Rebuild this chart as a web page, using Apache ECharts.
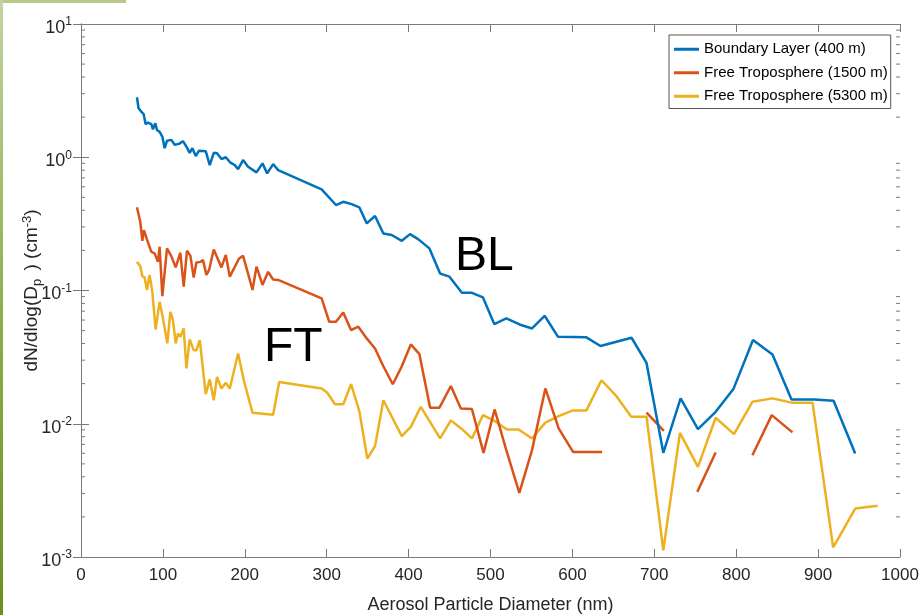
<!DOCTYPE html>
<html>
<head>
<meta charset="utf-8">
<script src="https://cdn.jsdelivr.net/npm/echarts@6/dist/echarts.min.js"></script>
<style>
  html, body { margin: 0; padding: 0; background: #ffffff; }
  #chart { width: 920px; height: 615px; }
</style>
</head>
<body>
<div id="chart"></div>
<script>
// Size distributions: [diameter (nm), dN/dlog(Dp) (cm^-3)]; null marks a missing bin
const boundaryLayer400 = [
  [68.3,2.82],[70.3,2.33],[73.6,2.20],[76.5,2.11],[78.9,1.77],[81.7,1.82],[85.9,1.77],[87.8,1.62],
  [90.8,1.80],[92.7,1.60],[96.0,1.55],[99.3,1.43],[102.1,1.17],[105.0,1.33],[107.4,1.29],[110.3,1.35],
  [114.4,1.24],[119.6,1.26],[124.5,1.32],[128.7,1.20],[132.7,1.08],[136.0,1.17],[140.1,1.02],[144.1,1.12],
  [152.3,1.11],[157.2,0.873],[162.1,1.08],[166.1,1.07],[171.5,0.97],[176.8,1.00],[182.5,0.91],[187.8,0.873],
  [191.8,0.815],[197.9,0.953],[204.0,0.849],[214.3,0.77],[221.6,0.90],[227.3,0.757],[234.6,0.889],[240.7,0.80],
  [293.8,0.574],[311.3,0.438],[320.2,0.463],[330.5,0.445],[339.8,0.421],[348.9,0.319],[359.0,0.362],[369.2,0.268],
  [379.4,0.261],[391.7,0.236],[401.8,0.265],[412.0,0.242],[425.4,0.207],[438.5,0.134],[449.9,0.127],[465.1,0.096],
  [477.3,0.096],[490.8,0.0887],[504.6,0.056],[519.3,0.0618],[535.5,0.0556],[550.7,0.0519],[566.1,0.0646],[582.5,0.0449],
  [617.1,0.0445],[634.3,0.0383],[672.2,0.0442],[690.5,0.0286],[711.0,0.00605],[732.1,0.0155],[753.3,0.0091],[774.9,0.0123],
  [796.6,0.0182],[820.5,0.0425],[844.3,0.0331],[867.5,0.0152],[895.2,0.0152],[918.9,0.0149],[945.3,0.00598]
];

const freeTroposphere1500 = [
  [68.3,0.421],[72.4,0.328],[74.9,0.236],[76.8,0.284],[80.5,0.242],[85.9,0.195],[89.9,0.190],[93.9,0.164],
  [96.0,0.213],[99.3,0.0908],[105.0,0.207],[110.3,0.181],[115.6,0.149],[121.3,0.192],[125.4,0.107],[129.4,0.199],
  [133.6,0.182],[137.6,0.125],[140.9,0.162],[145.8,0.164],[149.0,0.169],[153.1,0.131],[156.3,0.142],[162.1,0.203],
  [171.5,0.149],[176.8,0.185],[181.7,0.127],[193.0,0.174],[197.9,0.182],[204.0,0.134],[209.4,0.101],[214.3,0.151],
  [221.6,0.110],[228.5,0.138],[234.6,0.121],[240.7,0.120],[293.8,0.0873],[303.1,0.0582],[311.3,0.0582],[320.2,0.0684],
  [329.7,0.0505],[338.6,0.0535],[348.9,0.0437],[359.0,0.0367],[369.2,0.0270],[380.7,0.0198],[391.7,0.0270],[402.7,0.0394],
  [413.2,0.0333],[426.3,0.0132],[437.7,0.0132],[451.6,0.0192],[463.8,0.0130],[477.3,0.0129],[491.5,0.00605],[505.0,0.0128],
  [519.3,0.00634],[535.2,0.00303],[550.7,0.00634],[567.0,0.0184],[583.2,0.00922],[600.8,0.00615],[636.3,0.00615],
  [653.8,null],
  [690.5,0.0121],[711.7,0.00885],
  [732.1,null],
  [752.5,0.00308],[774.9,0.00609],
  [796.6,null],
  [819.8,0.00581],[843.4,0.0116],[868.7,0.00861]
];

const freeTroposphere5300 = [
  [68.3,0.164],[72.4,0.152],[74.9,0.128],[77.7,0.125],[80.5,0.101],[83.8,0.131],[87.1,0.0977],[91.1,0.051],
  [96.0,0.0822],[100.1,0.0618],[105.4,0.0401],[109.1,0.0692],[112.3,0.060],[115.6,0.0401],[118.4,0.0476],[121.3,0.0449],
  [125.4,0.0519],[128.7,0.026],[132.7,0.043],[137.6,0.0357],[140.9,0.0355],[145.0,0.0425],[152.3,0.0167],[157.2,0.0215],
  [162.1,0.0150],[166.1,0.0225],[171.5,0.0184],[176.8,0.0203],[181.7,0.0184],[191.8,0.0337],[198.8,0.0212],[209.4,0.0121],
  [234.6,0.0117],[242.0,0.0206],[293.8,0.0184],[300.7,0.0171],[310.1,0.0140],[320.2,0.0140],[329.7,0.0198],[339.8,0.0125],
  [349.6,0.00548],[359.0,0.00679],[369.2,0.0150],[391.7,0.00807],[402.7,0.00948],[414.9,0.0134],[438.5,0.00776],[451.6,0.0106],
  [464.2,0.00922],[477.3,0.00776],[490.8,0.0116],[505.0,0.0105],[520.1,0.00906],[534.3,0.00906],[550.7,0.00776],[567.0,0.0102],
  [583.2,0.0114],[600.8,0.0126],[617.1,0.0126],[635.5,0.0212],[653.8,0.0161],[671.8,0.0113],[690.5,0.0113],[711.0,0.00112],
  [731.3,0.00855],[753.3,0.00475],[774.9,0.0111],[797.3,0.00836],[819.8,0.0146],[844.3,0.0155],[867.5,0.0144],[893.2,0.0144],
  [918.4,0.00118],[945.3,0.00231],[972.7,0.00242]
];

const seriesNames = ['Boundary Layer (400 m)', 'Free Troposphere (1500 m)', 'Free Troposphere (5300 m)'];
const seriesColors = ['#0072BD', '#D95319', '#EDB120'];

// Axis extents and tick layout
const xTicks = [0, 100, 200, 300, 400, 500, 600, 700, 800, 900, 1000];
const yDecades = [0.001, 0.01, 0.1, 1];
const yMinorSteps = [2, 3, 4, 5, 6, 7, 8, 9];
const yMinorTicks = [];
yDecades.forEach(d => yMinorSteps.forEach(m => yMinorTicks.push(d * m)));

const FONT = "'Liberation Sans', Arial, Helvetica, sans-serif";
const AXIS_COLOR = '#7a7a7a';
const TEXT_COLOR = '#262626';

const chart = echarts.init(document.getElementById('chart'), null, { renderer: 'canvas' });

const lineSeries = [boundaryLayer400, freeTroposphere1500, freeTroposphere5300].map((d, i) => ({
  name: seriesNames[i],
  type: 'line',
  data: d,
  xAxisIndex: 0,
  yAxisIndex: 0,
  showSymbol: false,
  symbol: 'none',
  connectNulls: false,
  clip: true,
  z: 3 - i + 2,
  lineStyle: { color: seriesColors[i], width: 2.5 },
  itemStyle: { color: seriesColors[i] }
}));

// Minor log ticks drawn inward on the left and right frame edges
const minorTickSeries = {
  name: 'minorTicks',
  type: 'custom',
  xAxisIndex: 0,
  yAxisIndex: 0,
  silent: true,
  data: yMinorTicks.map(v => [0, v]),
  renderItem: function (params, api) {
    const v = api.value(1);
    const left = api.coord([0, v]);
    const right = api.coord([1000, v]);
    const len = 4;
    return {
      type: 'group',
      children: [
        { type: 'line', shape: { x1: left[0], y1: left[1], x2: left[0] + len, y2: left[1] }, style: { stroke: AXIS_COLOR, lineWidth: 1 } },
        { type: 'line', shape: { x1: right[0] - len, y1: right[1], x2: right[0], y2: right[1] }, style: { stroke: AXIS_COLOR, lineWidth: 1 } }
      ]
    };
  },
  z: 1
};

const option = {
  backgroundColor: '#ffffff',
  animation: false,
  grid: { left: 81, top: 24, width: 819, height: 533, containLabel: false, outerBoundsMode: 'none' },
  legend: {
    data: seriesNames,
    orient: 'vertical',
    left: 669,
    top: 35,
    padding: [6, 3, 4, 5],
    itemGap: 7,
    itemWidth: 25,
    itemHeight: 3,
    itemTextGap: 0,
    icon: 'rect',
    backgroundColor: '#ffffff',
    borderColor: '#555555',
    borderWidth: 1,
    borderRadius: 0,
    selectedMode: false,
    textStyle: { fontFamily: FONT, fontSize: 15, color: '#000000', lineHeight: 16.5 }
  },
  xAxis: [
    {
      type: 'value',
      min: 0,
      max: 1000,
      interval: 100,
      position: 'bottom',
      name: 'Aerosol Particle Diameter (nm)',
      nameLocation: 'middle',
      nameGap: 39,
      nameMoveOverlap: false,
      nameTextStyle: { fontFamily: FONT, fontSize: 18, color: TEXT_COLOR },
      axisLine: { show: true, lineStyle: { color: AXIS_COLOR, width: 1 } },
      axisTick: { show: true, inside: true, length: 8, lineStyle: { color: AXIS_COLOR } },
      axisLabel: {
        show: true, margin: 10, fontFamily: FONT, fontSize: 17, color: TEXT_COLOR,
        formatter: function (v) { return String(v); }
      },
      splitLine: { show: false }
    },
    {
      type: 'value',
      min: 0,
      max: 1000,
      interval: 100,
      position: 'top',
      axisLine: { show: true, lineStyle: { color: AXIS_COLOR, width: 1 } },
      axisTick: { show: true, inside: true, length: 8, lineStyle: { color: AXIS_COLOR } },
      axisLabel: { show: false },
      splitLine: { show: false }
    }
  ],
  yAxis: [
    {
      type: 'log',
      logBase: 10,
      min: 0.001,
      max: 10,
      position: 'left',
      name: '{a|dN/dlog(D}{sub|p}{a| ) (cm}{sup|-3}{a|)}',
      nameLocation: 'middle',
      nameRotate: 90,
      nameGap: 37,
      nameMoveOverlap: false,
      nameTextStyle: {
        fontFamily: FONT, fontSize: 19, color: TEXT_COLOR,
        rich: {
          a: { fontFamily: FONT, fontSize: 19, color: TEXT_COLOR },
          sub: { fontFamily: FONT, fontSize: 13, color: TEXT_COLOR, padding: [11, 3, 0, 0] },
          sup: { fontFamily: FONT, fontSize: 13, color: TEXT_COLOR, padding: [0, 0, 9, 0] }
        }
      },
      axisLine: { show: true, lineStyle: { color: AXIS_COLOR, width: 1 } },
      axisTick: { show: true, inside: true, length: 8, lineStyle: { color: AXIS_COLOR } },
      axisLabel: {
        show: true,
        margin: 9,
        formatter: function (v) {
          return '{b|10}{s|' + Math.round(Math.log10(v)) + '}';
        },
        rich: {
          b: { fontFamily: FONT, fontSize: 18, color: TEXT_COLOR, padding: [8, 0, 0, 0] },
          s: { fontFamily: FONT, fontSize: 12, color: TEXT_COLOR, padding: [0, 0, 4, 0] }
        }
      },
      splitLine: { show: false }
    },
    {
      type: 'log',
      logBase: 10,
      min: 0.001,
      max: 10,
      position: 'right',
      axisLine: { show: true, lineStyle: { color: AXIS_COLOR, width: 1 } },
      axisTick: { show: true, inside: true, length: 8, lineStyle: { color: AXIS_COLOR } },
      axisLabel: { show: false },
      splitLine: { show: false }
    }
  ],
  graphic: [
    // slide frame accents
    {
      type: 'rect', left: 0, top: 0, z: 100,
      shape: { width: 126, height: 3 },
      style: { fill: '#b7c98c' }
    },
    {
      type: 'rect', left: 0, top: 0, z: 100,
      shape: { width: 3, height: 615 },
      style: {
        fill: new echarts.graphic.LinearGradient(0, 0, 0, 1, [
          { offset: 0, color: '#c4d4a0' },
          { offset: 0.5, color: '#8fae4e' },
          { offset: 1, color: '#6a8f1e' }
        ])
      }
    },
    // curve annotations
    {
      type: 'text', left: 455, top: 233, z: 50,
      style: { text: 'BL', font: "48px 'Liberation Sans', Arial, sans-serif", fill: '#000000' }
    },
    {
      type: 'text', left: 264, top: 324, z: 50,
      style: { text: 'FT', font: "48px 'Liberation Sans', Arial, sans-serif", fill: '#000000' }
    }
  ],
  series: [minorTickSeries].concat(lineSeries)
};

chart.setOption(option);
</script>
</body>
</html>
